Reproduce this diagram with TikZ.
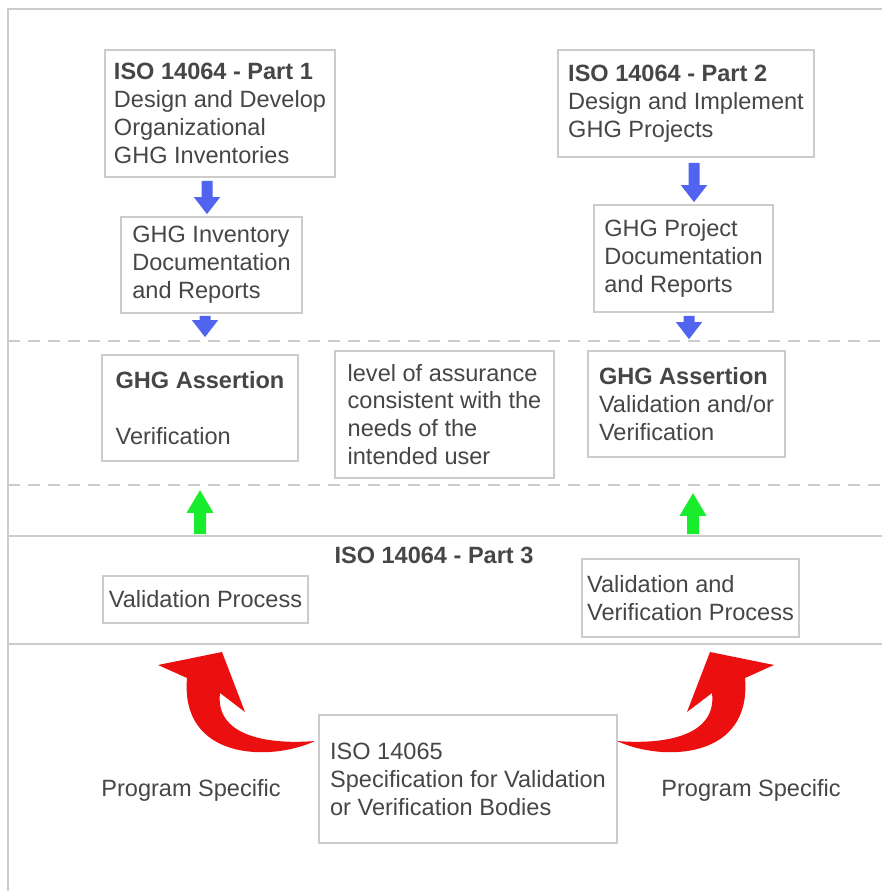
\documentclass[tikz,border=0pt]{standalone}
\usepackage{fontspec}
\setmainfont{Liberation Sans}
\usetikzlibrary{arrows.meta}
\definecolor{rahmen}{RGB}{204,204,204}
\definecolor{schrift}{RGB}{70,70,70}
\definecolor{pfeilblau}{RGB}{80,100,240}
\definecolor{pfeilgruen}{RGB}{25,235,45}
\definecolor{pfeilrot}{RGB}{235,15,15}
\tikzset{
	kasten/.style={draw=rahmen, line width=0.9pt, fill=white, align=left,
		text=schrift, inner xsep=0pt, inner ysep=0pt,
		font=\fontsize{13.4pt}{15.9pt}\selectfont},
	beschriftung/.style={text=schrift, inner sep=0pt,
		font=\fontsize{13.4pt}{15.9pt}\selectfont},
	linie/.style={draw=rahmen, line width=0.9pt},
	gestrichelt/.style={draw=rahmen, line width=0.9pt,
		dash pattern=on 0.24cm off 0.16cm},
	blaupfeil/.style={draw=pfeilblau, line width=0.22cm,
		-{Triangle[width=0.5cm, length=0.34cm]}},
	gruenpfeil/.style={draw=pfeilgruen, line width=0.24cm,
		-{Triangle[width=0.5cm, length=0.46cm]}}
}
\begin{document}
\begin{tikzpicture}[x=0.02cm, y=-0.02cm]
	\useasboundingbox (0, 0) rectangle (882, 891);
	% Rahmen und Trennlinien
	\draw[linie] (8, 891) -- (8, 9) -- (882, 9);
	\draw[gestrichelt] (8, 341) -- (882, 341);
	\draw[gestrichelt] (8, 485) -- (882, 485);
	\draw[linie] (8, 536) -- (882, 536);
	\draw[linie] (8, 644) -- (882, 644);
	% ISO 14064 Teil 1 und 2
	\node[kasten, minimum width=4.6cm, minimum height=2.54cm] (teil1) at (220,
	113.5) {\textbf{ISO 14064 - Part 1}\\Design and Develop\\Organizational\\GHG
	Inventories};
	\node[kasten, minimum width=3.62cm, minimum height=1.92cm] (invdoku) at
	(211.5, 265) {GHG Inventory\\Documentation\\and Reports};
	\node[kasten, minimum width=5.12cm, minimum height=2.14cm] (teil2) at (686,
	103.5) {\textbf{ISO 14064 - Part 2}\\Design and Implement\\GHG Projects};
	\node[kasten, minimum width=3.58cm, minimum height=2.14cm] (projdoku) at
	(683.5, 258.5) {GHG Project\\Documentation\\and Reports};
	% Aussagen
	\node[kasten, minimum width=3.92cm, minimum height=2.12cm] (aussagel) at
	(200, 408) {\textbf{GHG Assertion}\\[15.9pt]Verification};
	\node[kasten, minimum width=4.38cm, minimum height=2.54cm] (sicherheit) at
	(444.5, 414.5) {level of assurance\\consistent with the\\needs of the\\intended
	user};
	\node[kasten, minimum width=3.94cm, minimum height=2.12cm] (aussager) at
	(686.5, 404) {\textbf{GHG Assertion}\\Validation and/or\\Verification};
	% ISO 14064 Teil 3
	\node[beschriftung] (teil3) at (434, 555) {\textbf{ISO 14064 - Part 3}};
	\node[kasten, minimum width=4.1cm, minimum height=0.94cm] (validl) at (205.5,
	599.5) {Validation Process};
	\node[kasten, minimum width=4.34cm, minimum height=1.56cm] (validr) at
	(690.5, 598) {Validation and\\Verification Process};
	% ISO 14065
	\node[kasten, minimum width=5.96cm, minimum height=2.56cm] (stellen) at (468,
	779) {ISO 14065\\Specification for Validation\\or Verification Bodies};
	\node[beschriftung] (progl) at (191, 790) {Program Specific};
	\node[beschriftung] (progr) at (751, 790) {Program Specific};
	% blaue Pfeile
	\draw[blaupfeil, shorten <=0.06cm, shorten >=0.04cm] ([xshift=-0.26cm]
	teil1.south) -- ([xshift=-0.09cm]invdoku.north);
	\draw[blaupfeil, shorten <=0.04cm, shorten >=0.34cm] ([xshift=-0.13cm]
	invdoku.south) -- ([xshift=0.1cm]aussagel.north);
	\draw[blaupfeil, shorten <=0.1cm, shorten >=0.04cm] ([xshift=0.16cm]
	teil2.south) -- ([xshift=0.21cm]projdoku.north);
	\draw[blaupfeil, shorten <=0.06cm, shorten >=0.22cm] ([xshift=0.11cm]
	projdoku.south) -- ([xshift=0.05cm]aussager.north);
	% gruene Pfeile
	\draw[gruenpfeil, shorten <=0.82cm, shorten >=0.56cm] ([xshift=-0.11cm]
	validl.north) -- (aussagel.south);
	\draw[gruenpfeil, shorten <=0.48cm, shorten >=0.7cm] ([xshift=0.05cm]
	validr.north) -- ([xshift=0.13cm]aussager.south);
	% rote Pfeile
	\foreach \s/\v in {1/0, -1/932}
		\fill[pfeilrot, shift={(\v, 0)}, xscale=\s] (315, 741) .. controls (270,
		762) and (180, 760) .. (187, 678) -- (158, 665) -- (222, 652) -- (245,
		712) -- (220, 693) .. controls (215, 735) and (265, 745) .. (315, 741)
		-- cycle;
\end{tikzpicture}
\end{document}
